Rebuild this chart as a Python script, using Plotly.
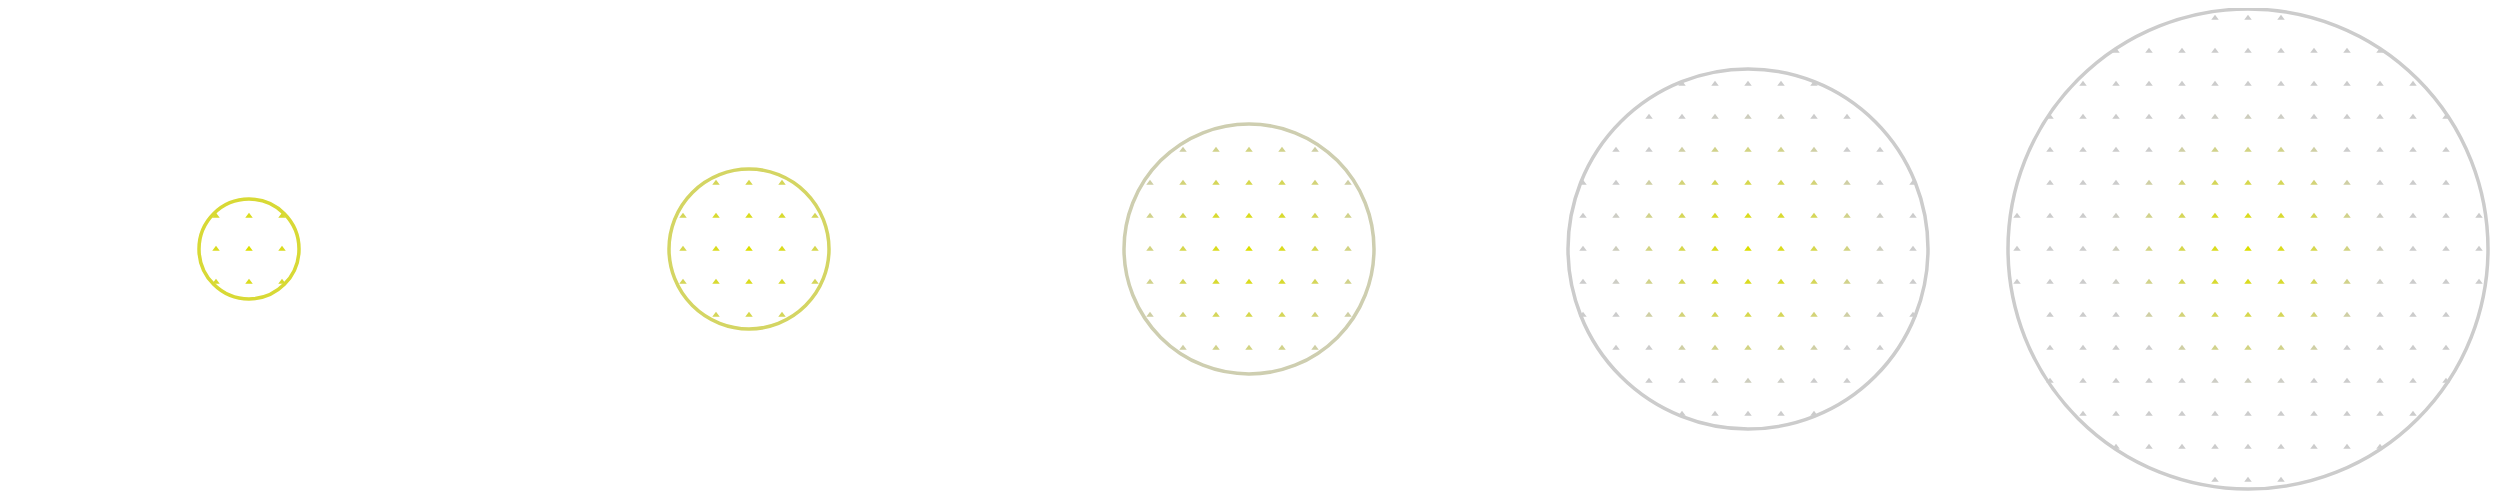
import plotly.graph_objects as go

# --- data ---
circle_centers_x = [249, 749, 1249, 1748, 2248]
circle_center_y = 249
circle_radii = [50, 80, 125, 180, 240]
grid_step = 33

YELLOW = (220, 222, 0)
GRAY = (204, 204, 204)
FADE_DIST = 140.0
FADE_POW = 1.3

# page body has an 8px margin; map data units to screen pixels
PAGE_MARGIN = 8
FIG_W, FIG_H = 2500 - 2 * PAGE_MARGIN, 500 - 2 * PAGE_MARGIN


def color_at(d):
    t = min(d / FADE_DIST, 1.0) ** FADE_POW
    r, g, b = (round(YELLOW[i] + (GRAY[i] - YELLOW[i]) * t) for i in range(3))
    return f"rgb({r},{g},{b})"


fig = go.Figure()

for cx, rad in zip(circle_centers_x, circle_radii):
    fig.add_shape(
        type="circle", xref="x", yref="y",
        x0=cx - rad, x1=cx + rad,
        y0=circle_center_y - rad, y1=circle_center_y + rad,
        line=dict(color=color_at(rad), width=3.5),
        fillcolor="rgba(0,0,0,0)", layer="below",
    )
    n = int(rad // grid_step) + 1
    xs, ys, cs = [], [], []
    for i in range(-n, n + 1):
        for j in range(-n, n + 1):
            dx, dy = i * grid_step, j * grid_step
            d = (dx * dx + dy * dy) ** 0.5
            if d < rad:
                xs.append(cx + dx)
                ys.append(circle_center_y + dy)
                cs.append(color_at(d))
    fig.add_trace(go.Scatter(
        x=xs, y=ys, mode="markers",
        marker=dict(symbol="triangle-up", size=6.5, color=cs, line=dict(width=0)),
        hoverinfo="skip", showlegend=False,
    ))

fig.update_layout(
    width=FIG_W, height=FIG_H,
    margin=dict(l=0, r=0, t=0, b=0),
    paper_bgcolor="white", plot_bgcolor="white",
    xaxis=dict(range=[PAGE_MARGIN, PAGE_MARGIN + FIG_W], visible=False, fixedrange=True),
    yaxis=dict(range=[PAGE_MARGIN + FIG_H, PAGE_MARGIN], visible=False, fixedrange=True),
    showlegend=False,
)

fig.write_html("out.html")
